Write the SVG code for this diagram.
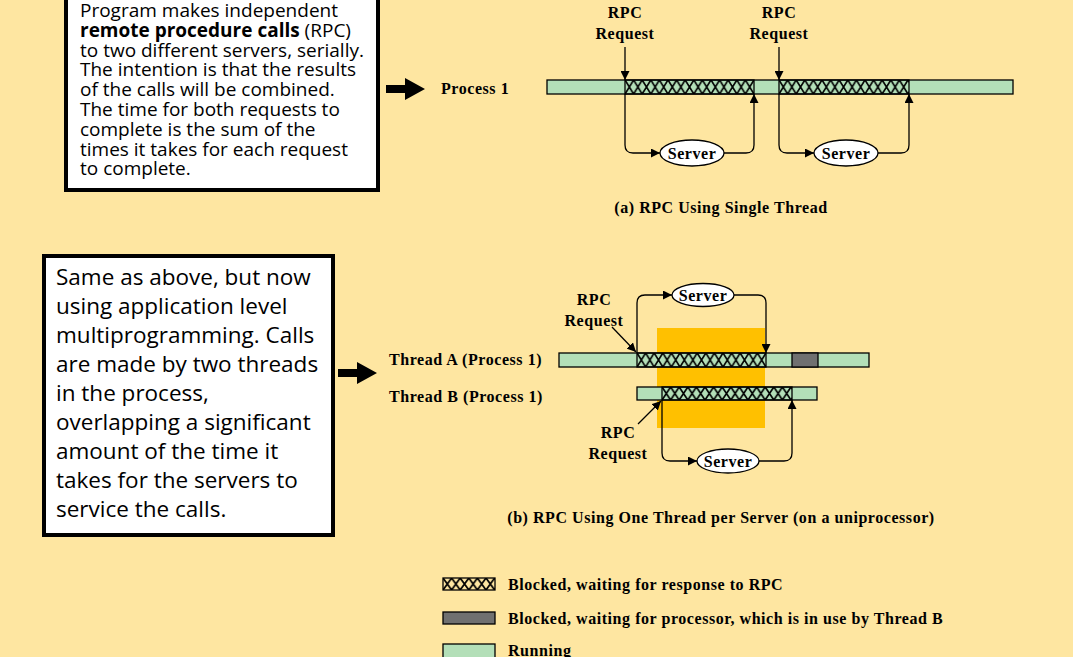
<svg xmlns="http://www.w3.org/2000/svg" width="1073" height="657" viewBox="0 0 1073 657">
<style>
.bg{fill:#FEE6A1}
.box{fill:#FFFFFF;stroke:#000;stroke-width:4}
.note{font-family:"Open Sans","Noto Sans","Liberation Sans",sans-serif;fill:#000}
.lbl{font-family:"Liberation Serif","Times New Roman",serif;font-weight:bold;font-size:16px;letter-spacing:0.55px;fill:#000}
.run{fill:#B3DFB8;stroke:#000;stroke-width:1.3}
.blk{stroke:#000;stroke-width:1.3}
.wait{fill:#707070;stroke:#000;stroke-width:1.3}
.con{fill:none;stroke:#000;stroke-width:1.3}
.srv{fill:#FFFFFF;stroke:#000;stroke-width:1.3}
.hx{stroke:#000;stroke-width:1.7;fill:none}
</style>
<defs>
<marker id="ah" markerUnits="userSpaceOnUse" markerWidth="9" markerHeight="9" refX="9" refY="4.5" orient="auto">
<path d="M0,0 L9,4.5 L0,9 z" fill="#000"/>
</marker>
<pattern id="h1" patternUnits="userSpaceOnUse" x="625" y="80" width="8.6" height="14">
<path class="hx" d="M0,0 L8.6,14 M8.6,0 L0,14"/>
</pattern>
<pattern id="h2" patternUnits="userSpaceOnUse" x="779" y="80" width="8.6" height="14">
<path class="hx" d="M0,0 L8.6,14 M8.6,0 L0,14"/>
</pattern>
<pattern id="hA" patternUnits="userSpaceOnUse" x="637" y="353" width="8.6" height="14">
<path class="hx" d="M0,0 L8.6,14 M8.6,0 L0,14"/>
</pattern>
<pattern id="hB" patternUnits="userSpaceOnUse" x="662" y="387" width="8.6" height="13">
<path class="hx" d="M0,0 L8.6,13 M8.6,0 L0,13"/>
</pattern>
<pattern id="hL" patternUnits="userSpaceOnUse" x="443" y="578" width="8.6" height="12">
<path class="hx" d="M0,0 L8.6,12 M8.6,0 L0,12"/>
</pattern>
</defs>
<rect class="bg" x="0" y="0" width="1073" height="657"/>

<g id="note-a">
<rect class="box" x="66" y="-10" width="312" height="200"/>
<text class="note" font-size="19">
<tspan x="80" y="17">Program makes independent</tspan>
<tspan x="80" y="36.8"><tspan font-weight="bold">remote procedure calls</tspan> (RPC)</tspan>
<tspan x="80" y="56.6">to two different servers, serially.</tspan>
<tspan x="80" y="76.4">The intention is that the results</tspan>
<tspan x="80" y="96.2">of the calls will be combined.</tspan>
<tspan x="80" y="116">The time for both requests to</tspan>
<tspan x="80" y="135.8">complete is the sum of the</tspan>
<tspan x="80" y="155.6">times it takes for each request</tspan>
<tspan x="80" y="175.4">to complete.</tspan>
</text>
</g>

<g id="note-b">
<rect class="box" x="44" y="256" width="289" height="279"/>
<text class="note" font-size="22.5">
<tspan x="56" y="285">Same as above, but now</tspan>
<tspan x="56" y="314">using application level</tspan>
<tspan x="56" y="343">multiprogramming. Calls</tspan>
<tspan x="56" y="372">are made by two threads</tspan>
<tspan x="56" y="401">in the process,</tspan>
<tspan x="56" y="430">overlapping a significant</tspan>
<tspan x="56" y="459">amount of the time it</tspan>
<tspan x="56" y="488">takes for the servers to</tspan>
<tspan x="56" y="517">service the calls.</tspan>
</text>
</g>

<g id="big-arrows">
<path d="M386,85 H405 V78 L425,89 L405,100 V93 H386 z" fill="#000"/>
<path d="M338,369 H357 V362 L377,373 L357,384 V377 H338 z" fill="#000"/>
</g>

<g id="process1">
<text class="lbl" x="441" y="94">Process 1</text>
<rect class="run" x="547" y="80" width="466" height="14"/>
<rect fill="url(#h1)" class="blk" x="625" y="80" width="129" height="14"/>
<rect fill="url(#h2)" class="blk" x="779" y="80" width="130" height="14"/>
</g>

<g id="labels-a">
<text class="lbl" text-anchor="middle" x="625" y="18">RPC</text>
<text class="lbl" text-anchor="middle" x="625" y="39">Request</text>
<text class="lbl" text-anchor="middle" x="779" y="18">RPC</text>
<text class="lbl" text-anchor="middle" x="779" y="39">Request</text>
</g>

<g id="server-a1">
<ellipse class="srv" cx="692" cy="153" rx="32" ry="13"/>
<text class="lbl" text-anchor="middle" x="692" y="159">Server</text>
</g>
<g id="server-a2">
<ellipse class="srv" cx="846" cy="153" rx="32" ry="13"/>
<text class="lbl" text-anchor="middle" x="846" y="159">Server</text>
</g>

<text class="lbl" text-anchor="middle" x="721" y="213">(a) RPC Using Single Thread</text>

<rect id="overlap" x="657" y="328" width="108" height="100" fill="#FFC000"/>

<g id="threadA">
<text class="lbl" x="389" y="365">Thread A (Process 1)</text>
<rect class="run" x="559" y="353" width="310" height="14"/>
<rect fill="url(#hA)" class="blk" x="637" y="353" width="129" height="14"/>
<rect class="wait" x="792" y="353" width="26" height="14"/>
</g>

<g id="threadB">
<text class="lbl" x="389" y="402">Thread B (Process 1)</text>
<rect class="run" x="637" y="387" width="180" height="13"/>
<rect fill="url(#hB)" class="blk" x="662" y="387" width="130" height="13"/>
</g>

<g id="labels-b">
<text class="lbl" text-anchor="middle" x="594" y="305">RPC</text>
<text class="lbl" text-anchor="middle" x="594" y="326">Request</text>
<text class="lbl" text-anchor="middle" x="618" y="438">RPC</text>
<text class="lbl" text-anchor="middle" x="618" y="459">Request</text>
</g>

<g id="server-b1">
<ellipse class="srv" cx="703" cy="295" rx="31" ry="11.5"/>
<text class="lbl" text-anchor="middle" x="703" y="301">Server</text>
</g>
<g id="server-b2">
<ellipse class="srv" cx="728" cy="461" rx="31" ry="12"/>
<text class="lbl" text-anchor="middle" x="728" y="467">Server</text>
</g>

<text class="lbl" text-anchor="middle" x="721" y="523">(b) RPC Using One Thread per Server (on a uniprocessor)</text>

<g id="connectors">
<path class="con" d="M625,47 V80" marker-end="url(#ah)"/>
<path class="con" d="M625,94 V145 Q625,153 633,153 H660" marker-end="url(#ah)"/>
<path class="con" d="M724,153 H746 Q754,153 754,145 V94" marker-end="url(#ah)"/>
<path class="con" d="M779,47 V80" marker-end="url(#ah)"/>
<path class="con" d="M779,94 V145 Q779,153 787,153 H814" marker-end="url(#ah)"/>
<path class="con" d="M878,153 H901 Q909,153 909,145 V94" marker-end="url(#ah)"/>

<path class="con" d="M612,327 L636,352" marker-end="url(#ah)"/>
<path class="con" d="M637,353 V303 Q637,295 645,295 H672" marker-end="url(#ah)"/>
<path class="con" d="M734,295 H758 Q766,295 766,303 V353" marker-end="url(#ah)"/>
<path class="con" d="M638,424 L661,401" marker-end="url(#ah)"/>
<path class="con" d="M662,400 V453 Q662,461 670,461 H697" marker-end="url(#ah)"/>
<path class="con" d="M759,461 H784 Q792,461 792,453 V400" marker-end="url(#ah)"/>
</g>

<g id="legend">
<rect fill="url(#hL)" class="blk" x="443" y="578" width="52" height="12"/>
<text class="lbl" x="508" y="590">Blocked, waiting for response to RPC</text>
<rect class="wait" x="443" y="612" width="52" height="12"/>
<text class="lbl" x="508" y="624">Blocked, waiting for processor, which is in use by Thread B</text>
<rect class="run" x="443" y="644" width="52" height="14"/>
<text class="lbl" x="508" y="656">Running</text>
</g>
</svg>
